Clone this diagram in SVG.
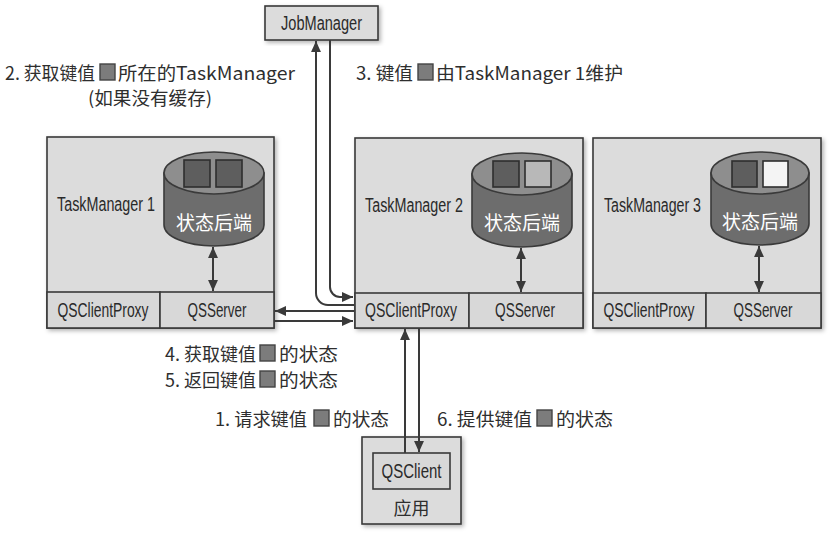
<svg xmlns="http://www.w3.org/2000/svg" width="829" height="536" viewBox="0 0 829 536">
<defs>
  <marker id="ah" viewBox="0 0 10 10" refX="10" refY="5" markerWidth="11" markerHeight="11" markerUnits="userSpaceOnUse" orient="auto-start-reverse">
    <path d="M0,0.5 L10,5 L0,9.5 z" fill="#3a3a3a"/>
  </marker>
  <filter id="sh" x="-10%" y="-10%" width="125%" height="125%">
    <feDropShadow dx="2" dy="2" stdDeviation="2" flood-color="#000" flood-opacity="0.3"/>
  </filter>
</defs>
<style>
  .box{fill:#dcdcdc;stroke:#3a3a3a;stroke-width:1.6}
  .cell{fill:#d8d8d8;stroke:#3a3a3a;stroke-width:1.6}
  .cn{font-family:"Liberation Sans Narrow","Liberation Sans","DejaVu Sans Condensed",sans-serif;font-size:19.5px;fill:#2a2a2a;dominant-baseline:central}
  .lb{font-family:"Noto Sans CJK SC","Noto Sans",sans-serif;font-size:18px;fill:#2e2e2e;dominant-baseline:central}
  .cw{font-family:"Noto Sans CJK SC",sans-serif;font-size:19px;fill:#ffffff;dominant-baseline:central;text-anchor:middle}
  .cap{fill:#8e8e8e;stroke:#3a3a3a;stroke-width:1.6}
  .body{fill:#6d6d6d;stroke:#3a3a3a;stroke-width:1.6}
  .sq{stroke:#2e2e2e;stroke-width:1.6}
  .ksq{fill:#7c7c7c;stroke:#444;stroke-width:1.4}
  .ln{fill:none;stroke:#3a3a3a;stroke-width:2}
</style>
<rect width="829" height="536" fill="#ffffff"/>

<g id="jobmanager">
  <rect class="box" x="265" y="6" width="113" height="34" filter="url(#sh)" fill="#d6d6d6"/>
  <text class="cn" x="321.5" y="23" text-anchor="middle" textLength="81" lengthAdjust="spacingAndGlyphs">JobManager</text>
</g>

<g id="taskmanager1">
  <rect class="box" x="47" y="137" width="227" height="191" filter="url(#sh)"/>
  <text class="cn" x="57" y="204" textLength="98" lengthAdjust="spacingAndGlyphs">TaskManager 1</text>
  <path class="body" d="M164,173 V225 A50,21 0 0 0 264,225 V173 z"/>
  <ellipse class="cap" cx="214" cy="173" rx="50" ry="21"/>
  <rect class="sq" x="184" y="160" width="26" height="27" fill="#5e5e5e"/>
  <rect class="sq" x="216" y="160" width="26" height="27" fill="#5e5e5e"/>
  <text class="cw" x="214" y="221">状态后端</text>
  <rect class="cell" x="47" y="292" width="113" height="36"/>
  <rect class="cell" x="160" y="292" width="114" height="36"/>
  <text class="cn" x="103" y="310" text-anchor="middle" textLength="91" lengthAdjust="spacingAndGlyphs">QSClientProxy</text>
  <text class="cn" x="217" y="310" text-anchor="middle" textLength="59" lengthAdjust="spacingAndGlyphs">QSServer</text>
  <path class="ln" d="M213,247 V291" marker-start="url(#ah)" marker-end="url(#ah)"/>
</g>

<g id="taskmanager2">
  <rect class="box" x="355" y="138" width="228" height="190" filter="url(#sh)"/>
  <text class="cn" x="365" y="205" textLength="98" lengthAdjust="spacingAndGlyphs">TaskManager 2</text>
  <path class="body" d="M472,174 V226 A50,21 0 0 0 572,226 V174 z"/>
  <ellipse class="cap" cx="522" cy="174" rx="50" ry="21"/>
  <rect class="sq" x="493" y="161" width="26" height="26" fill="#5e5e5e"/>
  <rect class="sq" x="525" y="161" width="26" height="26" fill="#b8b8b8"/>
  <text class="cw" x="522" y="221">状态后端</text>
  <rect class="cell" x="355" y="293" width="114" height="35"/>
  <rect class="cell" x="469" y="293" width="114" height="35"/>
  <text class="cn" x="411" y="310" text-anchor="middle" textLength="92" lengthAdjust="spacingAndGlyphs">QSClientProxy</text>
  <text class="cn" x="525" y="310" text-anchor="middle" textLength="60" lengthAdjust="spacingAndGlyphs">QSServer</text>
  <path class="ln" d="M521,248 V292" marker-start="url(#ah)" marker-end="url(#ah)"/>
</g>

<g id="taskmanager3">
  <rect class="box" x="593" y="138" width="228" height="190" filter="url(#sh)"/>
  <text class="cn" x="604" y="205" textLength="97" lengthAdjust="spacingAndGlyphs">TaskManager 3</text>
  <path class="body" d="M711,173 V224 A49,21 0 0 0 809,224 V173 z"/>
  <ellipse class="cap" cx="760" cy="173" rx="49" ry="21"/>
  <rect class="sq" x="732" y="161" width="25" height="26" fill="#5e5e5e"/>
  <rect class="sq" x="763" y="161" width="25" height="26" fill="#f4f4f4"/>
  <text class="cw" x="760" y="220">状态后端</text>
  <rect class="cell" x="593" y="293" width="113" height="35"/>
  <rect class="cell" x="706" y="293" width="115" height="35"/>
  <text class="cn" x="649" y="310" text-anchor="middle" textLength="91" lengthAdjust="spacingAndGlyphs">QSClientProxy</text>
  <text class="cn" x="763" y="310" text-anchor="middle" textLength="59" lengthAdjust="spacingAndGlyphs">QSServer</text>
  <path class="ln" d="M759,246 V292" marker-start="url(#ah)" marker-end="url(#ah)"/>
</g>

<g id="application">
  <rect class="box" x="362" y="437" width="99" height="87" filter="url(#sh)" fill="#e2e2e2"/>
  <rect class="cell" x="373" y="453" width="77" height="36" fill="#d4d4d4"/>
  <text class="cn" x="411.5" y="471" text-anchor="middle" textLength="60" lengthAdjust="spacingAndGlyphs">QSClient</text>
  <text class="lb" x="411.5" y="507" text-anchor="middle">应用</text>
</g>

<g id="connectors">
  <path class="ln" d="M354,305 H328 A12,12 0 0 1 316,293 V41" marker-end="url(#ah)"/>
  <path class="ln" d="M330,40 V287 A10,10 0 0 0 340,297 H353" marker-end="url(#ah)"/>
  <path class="ln" d="M354,311 H275" marker-end="url(#ah)"/>
  <path class="ln" d="M274,321 H353" marker-end="url(#ah)"/>
  <path class="ln" d="M405,453 V329" marker-end="url(#ah)"/>
  <path class="ln" d="M419,328 V452" marker-end="url(#ah)"/>
</g>

<g id="labels">
  <text class="lb" x="5" y="72" textLength="90" lengthAdjust="spacingAndGlyphs">2. 获取键值</text>
  <rect class="ksq" x="100" y="64" width="15" height="16"/>
  <text class="lb" x="118" y="72" textLength="177" lengthAdjust="spacingAndGlyphs">所在的TaskManager</text>
  <text class="lb" x="88" y="97" textLength="124" lengthAdjust="spacingAndGlyphs">(如果没有缓存)</text>

  <text class="lb" x="356" y="72" textLength="57" lengthAdjust="spacingAndGlyphs">3. 键值</text>
  <rect class="ksq" x="418" y="64" width="15" height="16"/>
  <text class="lb" x="436" y="72" textLength="187" lengthAdjust="spacingAndGlyphs">由TaskManager 1维护</text>

  <text class="lb" x="165" y="353" textLength="91" lengthAdjust="spacingAndGlyphs">4. 获取键值</text>
  <rect class="ksq" x="260" y="345" width="15" height="16"/>
  <text class="lb" x="279" y="353" textLength="59" lengthAdjust="spacingAndGlyphs">的状态</text>

  <text class="lb" x="165" y="379" textLength="91" lengthAdjust="spacingAndGlyphs">5. 返回键值</text>
  <rect class="ksq" x="260" y="371" width="15" height="16"/>
  <text class="lb" x="279" y="379" textLength="59" lengthAdjust="spacingAndGlyphs">的状态</text>

  <text class="lb" x="215" y="418" textLength="92" lengthAdjust="spacingAndGlyphs">1. 请求键值</text>
  <rect class="ksq" x="314" y="410" width="15" height="16"/>
  <text class="lb" x="333" y="418" textLength="56" lengthAdjust="spacingAndGlyphs">的状态</text>

  <text class="lb" x="437" y="418" textLength="95" lengthAdjust="spacingAndGlyphs">6. 提供键值</text>
  <rect class="ksq" x="537" y="410" width="15" height="16"/>
  <text class="lb" x="556" y="418" textLength="57" lengthAdjust="spacingAndGlyphs">的状态</text>
</g>
</svg>
